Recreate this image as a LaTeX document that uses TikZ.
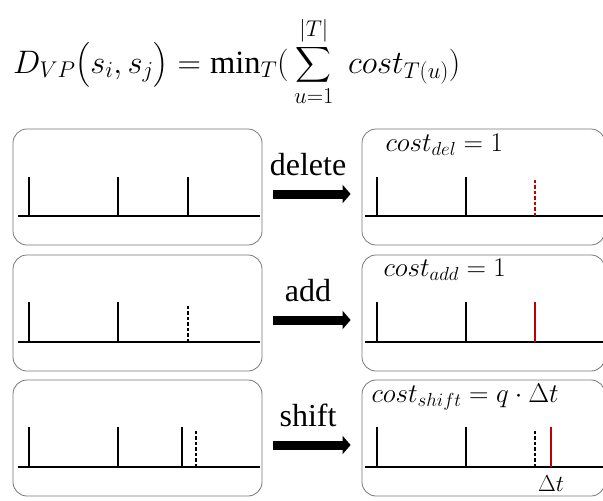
\RequirePackage{fix-cm}
\documentclass[tikz,border=0pt]{standalone}
\usepackage{amsmath}
\usepackage{fontspec}
\setmainfont{Liberation Serif}
\usetikzlibrary{arrows.meta}
\definecolor{spikered}{RGB}{192,0,0}
\definecolor{boxgray}{RGB}{120,120,120}

\begin{document}
\begin{tikzpicture}[x=1pt, y=-1pt,
                    box/.style={draw=boxgray, line width=0.8pt, rounded corners=14pt,
                                minimum width=249pt, minimum height=116pt, inner sep=0pt},
                    rbox/.style={box, minimum width=243pt},
                    axis/.style={line width=2.2pt},
                    spike/.style={line width=1.8pt},
                    gone/.style={spike, dash pattern=on 3.5pt off 2pt},
                    fat/.style={line width=9pt, -{Triangle[length=8pt, width=18pt]}},
                    op/.style={anchor=base, xshift=-4pt, yshift=19pt,
                               font=\fontsize{32}{32}\selectfont},
                    cost/.style={anchor=base west, font=\fontsize{27}{27}\selectfont}]
  \useasboundingbox (0,0) rectangle (603,501);

  \node (dvp) [anchor=base west, inner sep=0pt] at (13,73)
    {\fontsize{32.5}{32.5}\selectfont
     $\displaystyle D_{VP}\bigl(s_i,s_j\bigr) = \min\nolimits_T(\,\sum_{u=1}^{|T|}\; cost_{T(u)})$};

  \node (l1) [box] at (137.5,187) {};
  \node (l2) [box] at (137.5,313) {};
  \node (l3) [box] at (137.5,438) {};
  \node (r1) [rbox] at (483.5,187) {};
  \node (r2) [rbox] at (483.5,313) {};
  \node (r3) [rbox] at (483.5,438) {};

  \draw[fat] ([xshift=11pt, yshift=-7pt]l1.east) -- node[op] {delete} ([xshift=-11pt, yshift=-7pt]r1.west);
  \draw[fat] ([xshift=11pt, yshift=-7pt]l2.east) -- node[op] {add} ([xshift=-11pt, yshift=-7pt]r2.west);
  \draw[fat] ([xshift=11pt, yshift=-7pt]l3.east) -- node[op] {shift} ([xshift=-11pt, yshift=-7pt]r3.west);

  \node (cdel) [cost] at (382,151) {$cost_{del} = 1$};
  \node (cadd) [cost] at (380,276) {$cost_{add} = 1$};
  \node (cshift) [cost] at (368,402) {$cost_{shift} = q \cdot \Delta t$};
  \node (dt) [anchor=base, font=\fontsize{23}{23}\selectfont] at (551,491) {$\Delta t$};

  \draw[axis] (18,216) -- (260,216);
  \draw[spike] (29,216) -- (29,177);
  \draw[spike] (118,216) -- (118,177);
  \draw[spike] (188,216) -- (188,177);

  \draw[axis] (18,342) -- (260,342);
  \draw[spike] (29,342) -- (29,302);
  \draw[spike] (118,342) -- (118,302);
  \draw[gone] (188,342) -- (188,304);

  \draw[axis] (18,467) -- (260,467);
  \draw[spike] (29,467) -- (29,427);
  \draw[spike] (118,467) -- (118,427);
  \draw[spike] (182,467) -- (182,427);
  \draw[gone] (196,467) -- (196,429);

  \draw[axis] (365,216) -- (606,216);
  \draw[spike] (377,216) -- (377,177);
  \draw[spike] (466,216) -- (466,177);
  \draw[gone, spikered] (535,216) -- (535,178);

  \draw[axis] (365,342) -- (606,342);
  \draw[spike] (377,342) -- (377,302);
  \draw[spike] (466,342) -- (466,302);
  \draw[spike, spikered] (535,342) -- (535,302);

  \draw[axis] (365,467) -- (606,467);
  \draw[spike] (377,467) -- (377,427);
  \draw[spike] (466,467) -- (466,427);
  \draw[gone] (535,467) -- (535,429);
  \draw[spike, spikered] (551,467) -- (551,427);
\end{tikzpicture}
\end{document}
